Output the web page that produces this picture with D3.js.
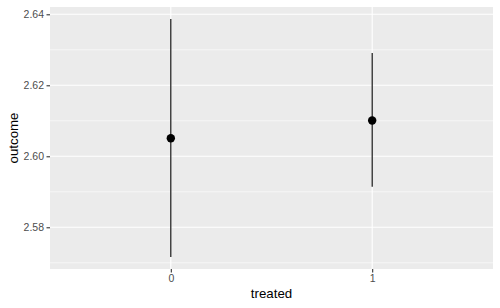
<!DOCTYPE html>
<html>
<head>
<meta charset="utf-8">
<script src="https://cdn.jsdelivr.net/npm/d3@7"></script>
<style>
  body { margin: 0; background: #fff; }
  text { font-family: "Liberation Sans", Arial, sans-serif; }
</style>
</head>
<body>
<div id="chart"></div>
<script>
// values
var treated = ["0", "1"]
var outcome = [2.6051, 2.6101]
var lower = [2.5716, 2.5914]
var upper = [2.6387, 2.6291]
var yTicks = [2.58, 2.60, 2.62, 2.64]
var yMinor = [2.57, 2.59, 2.61, 2.63]

var W = 500, H = 308
var margin = { top: 7, right: 7, bottom: 39, left: 50 }
var w = W - margin.left - margin.right
var h = H - margin.top - margin.bottom

var svg = d3.select("#chart").append("svg")
    .attr("width", W)
    .attr("height", H)
var g = svg.append("g")
    .attr("transform", "translate(" + margin.left + "," + margin.top + ")")

// discrete x like ggplot: 0.6 expansion each side
var x = d3.scalePoint()
    .domain(treated)
    .range([0, w])
    .padding(0.6)

var lo = d3.min(lower), hi = d3.max(upper)
var pad = (hi - lo) * 0.05
var y = d3.scaleLinear()
    .domain([lo - pad, hi + pad])
    .range([h, 0])

g.append("rect")
    .attr("width", w)
    .attr("height", h)
    .attr("fill", "#EBEBEB")

g.selectAll("line.minor")
    .data(yMinor)
    .enter().append("line")
    .attr("class", "minor")
    .attr("x1", 0).attr("x2", w)
    .attr("y1", function(d) { return y(d) })
    .attr("y2", function(d) { return y(d) })
    .attr("stroke", "#fff")
    .attr("stroke-width", 0.55)

g.selectAll("line.majory")
    .data(yTicks)
    .enter().append("line")
    .attr("class", "majory")
    .attr("x1", 0).attr("x2", w)
    .attr("y1", function(d) { return y(d) })
    .attr("y2", function(d) { return y(d) })
    .attr("stroke", "#fff")
    .attr("stroke-width", 1.1)

g.selectAll("line.majorx")
    .data(treated)
    .enter().append("line")
    .attr("class", "majorx")
    .attr("y1", 0).attr("y2", h)
    .attr("x1", function(d) { return x(d) })
    .attr("x2", function(d) { return x(d) })
    .attr("stroke", "#fff")
    .attr("stroke-width", 1.1)

// axes
var yax = g.append("g")
    .call(d3.axisLeft(y).tickValues(yTicks).tickFormat(d3.format(".2f")).tickSize(3.5).tickPadding(2.5))
yax.select(".domain").remove()
yax.selectAll("line").attr("stroke", "#333333").attr("stroke-width", 1.1)
yax.selectAll("text").attr("fill", "#4D4D4D").style("font-size", "10.5px")
    .attr("font-family", "'Liberation Sans', Arial, sans-serif")

var xax = g.append("g")
    .attr("transform", "translate(0," + h + ")")
    .call(d3.axisBottom(x).tickSize(3.5).tickPadding(2))
xax.select(".domain").remove()
xax.selectAll("line").attr("stroke", "#333333").attr("stroke-width", 1.1)
xax.selectAll("text").attr("fill", "#4D4D4D").style("font-size", "10.5px")
    .attr("font-family", "'Liberation Sans', Arial, sans-serif")

// pointranges
g.selectAll("line.range")
    .data(treated)
    .enter().append("line")
    .attr("class", "range")
    .attr("x1", function(d) { return x(d) })
    .attr("x2", function(d) { return x(d) })
    .attr("y1", function(d, i) { return y(lower[i]) })
    .attr("y2", function(d, i) { return y(upper[i]) })
    .attr("stroke", "#000")
    .attr("stroke-width", 1.1)

g.selectAll("circle.pt")
    .data(treated)
    .enter().append("circle")
    .attr("class", "pt")
    .attr("cx", function(d) { return x(d) })
    .attr("cy", function(d, i) { return y(outcome[i]) })
    .attr("r", 4.2)
    .attr("fill", "#000")

// axis titles
svg.append("text")
    .attr("x", margin.left + w / 2)
    .attr("y", 298)
    .attr("text-anchor", "middle")
    .style("font-size", "13.3px")
    .text("treated")

svg.append("text")
    .attr("transform", "translate(17.5," + (margin.top + h / 2) + ") rotate(-90)")
    .attr("text-anchor", "middle")
    .style("font-size", "13.3px")
    .text("outcome")
</script>
</body>
</html>
